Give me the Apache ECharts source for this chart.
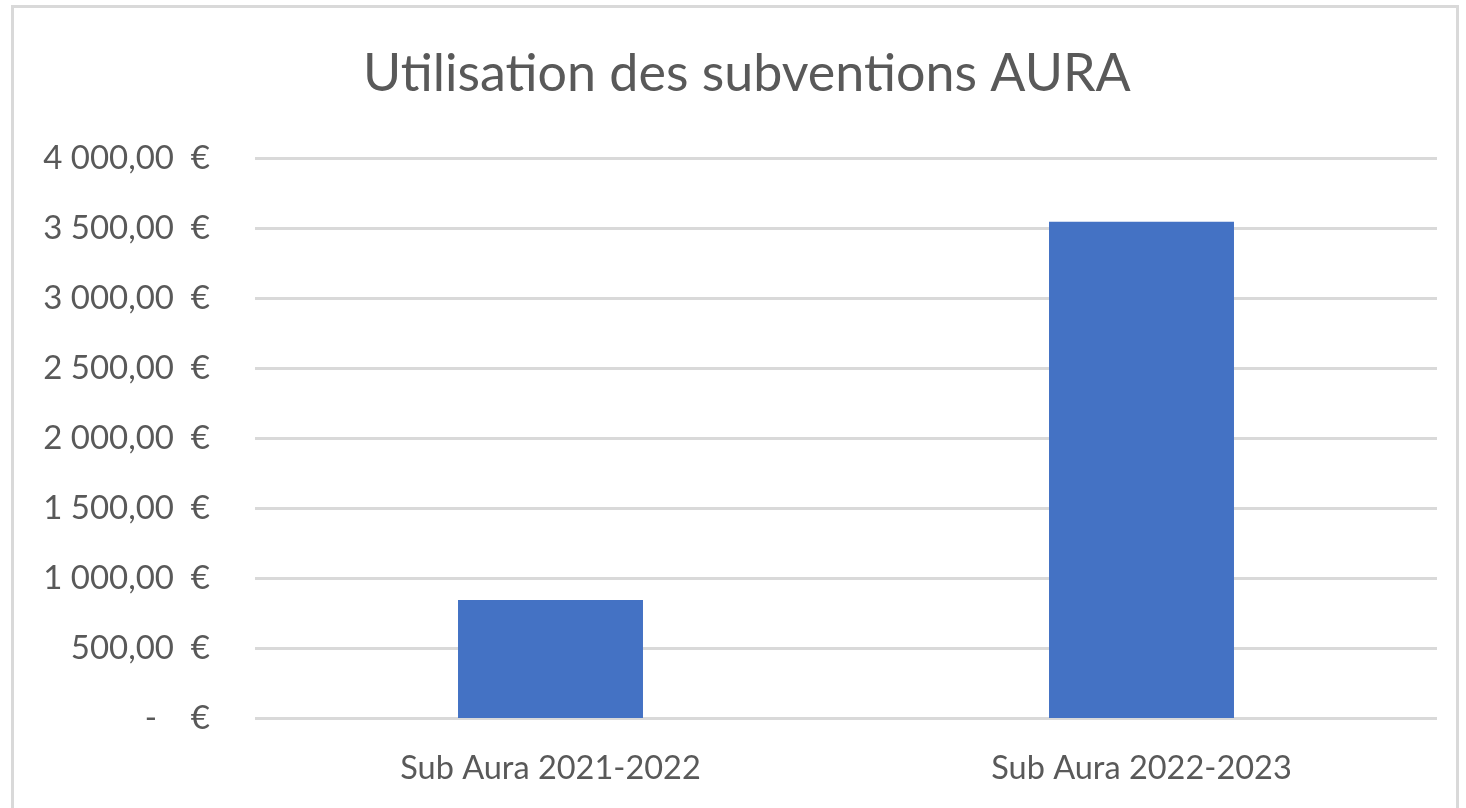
<!DOCTYPE html>
<html>
<head>
<meta charset="utf-8">
<script src="https://cdn.jsdelivr.net/npm/echarts@6/dist/echarts.min.js"></script>
<style>
  html, body { margin: 0; padding: 0; background: #fff; }
  #frame {
    position: absolute;
    left: 11px; top: 5px; width: 1448px; height: 820px;
    border: 3px solid #d9d9d9;
    box-sizing: border-box;
  }
  #chart { position: absolute; left: 0; top: 0; width: 1466px; height: 808px; }
</style>
</head>
<body>
<div id="frame"></div>
<div id="chart"></div>
<script>
const categories = ['Sub Aura 2021-2022', 'Sub Aura 2022-2023']
const amounts = [843, 3545]
const yTicks = [0, 500, 1000, 1500, 2000, 2500, 3000, 3500, 4000]

const euro = (v) => {
  if (v === 0) return '-    €'
  const whole = Math.floor(v).toString().replace(/\B(?=(\d{3})+(?!\d))/g, ' ')
  return whole + ',00  €'
}

const chart = echarts.init(document.getElementById('chart'))
const fontFamily = 'Lato, sans-serif'

chart.setOption({
  animation: false,
  title: {
    text: 'Utilisation des subventions AURA',
    left: 358,
    top: 43,
    textStyle: {
      fontFamily: fontFamily,
      fontSize: 52,
      fontWeight: 'normal',
      color: '#595959'
    }
  },
  grid: {
    left: 255,
    right: 29,
    top: 158,
    bottom: 90
  },
  xAxis: {
    type: 'category',
    data: categories,
    axisLine: { show: false },
    axisTick: { show: false },
    axisLabel: {
      color: '#595959',
      fontFamily: fontFamily,
      fontSize: 32.5,
      margin: 34
    }
  },
  yAxis: {
    type: 'value',
    min: yTicks[0],
    max: yTicks[yTicks.length - 1],
    interval: 500,
    axisLine: { show: false },
    axisTick: { show: false },
    axisLabel: {
      color: '#595959',
      fontFamily: fontFamily,
      fontSize: 33,
      margin: 45,
      formatter: euro
    },
    splitLine: {
      lineStyle: { color: '#d9d9d9', width: 3 }
    }
  },
  series: [
    {
      type: 'bar',
      data: amounts,
      barWidth: '31.3%',
      itemStyle: { color: '#4472c4' }
    }
  ]
})
</script>
</body>
</html>
